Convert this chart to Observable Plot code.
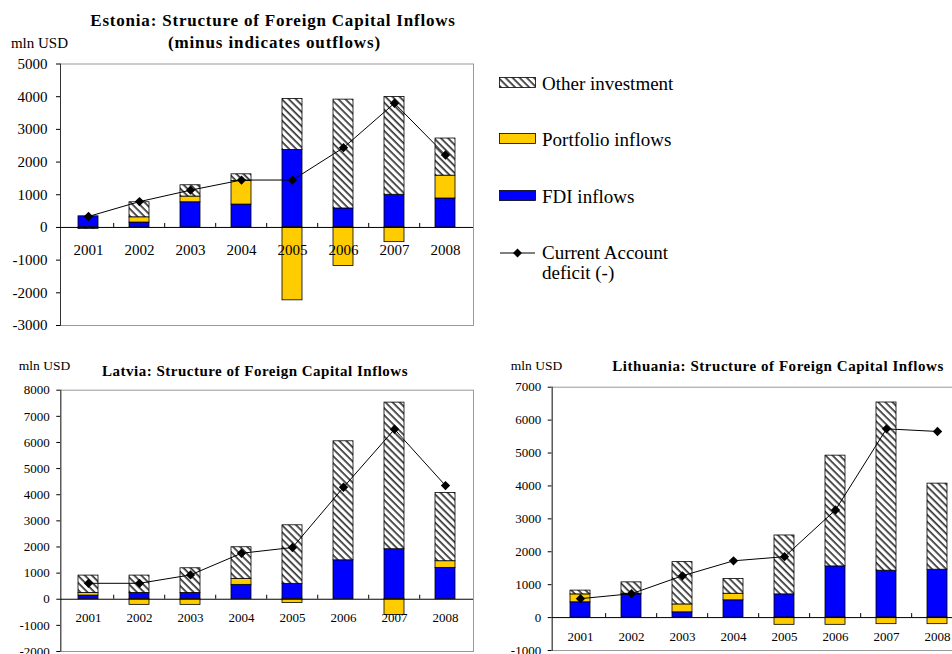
<!DOCTYPE html>
<html><head><meta charset="utf-8">
<script src="https://cdn.jsdelivr.net/npm/d3@7"></script>
<script src="https://cdn.jsdelivr.net/npm/@observablehq/plot@0.6"></script>
<style>
html,body{margin:0;padding:0;background:#fff;overflow:hidden;width:952px;height:654px;}
#root{position:relative;width:952px;height:654px;overflow:hidden;font-family:"Liberation Serif","Times New Roman",serif;color:#000;}
.abs{position:absolute;white-space:nowrap;line-height:1;}
.title{font-weight:bold;}
.chart{position:absolute;}
.sw{position:absolute;}
</style></head><body>
<svg width="0" height="0" style="position:absolute">
  <defs>
    <pattern id="hatch" patternUnits="userSpaceOnUse" width="5" height="5" patternTransform="rotate(45)">
      <rect width="5" height="5" fill="#fff"/>
      <rect width="5" height="1.7" fill="#333"/>
    </pattern>
  </defs>
</svg>
<div id="root"></div>
<script>
// ---- data ----
const years = ["2001","2002","2003","2004","2005","2006","2007","2008"];
const seriesNames = ["FDI inflows","Portfolio inflows","Other investment"];
const seriesColors = ["#0000ff","#ffcc00","url(#hatch)"];

const estoniaFDI       = [340, 150, 770, 700, 2370, 580, 1000, 885];
const estoniaPortfolio = [0, 160, 175, 720, -2230, -1180, -450, 700];
const estoniaOther     = [-50, 460, 345, 205, 1560, 3330, 2990, 1135];
const estoniaCA        = [335, 790, 1140, 1450, 1450, 2440, 3800, 2215];

const latviaFDI       = [140, 240, 240, 550, 590, 1490, 1915, 1200];
const latviaPortfolio = [100, -215, -215, 230, -140, 0, -600, 255];
const latviaOther     = [665, 665, 945, 1210, 2240, 4555, 5610, 2615];
const latviaCA        = [610, 610, 930, 1760, 1980, 4285, 6505, 4350];

const lithuaniaFDI       = [465, 705, 160, 525, 705, 1555, 1425, 1455];
const lithuaniaPortfolio = [240, 20, 240, 200, -220, -220, -200, -200];
const lithuaniaOther     = [115, 345, 1285, 445, 1790, 3365, 5110, 2615];
const lithuaniaCA        = [575, 725, 1270, 1725, 1850, 3270, 5735, 5655];

const yTicksEstonia   = [-3000,-2000,-1000,0,1000,2000,3000,4000,5000];
const yTicksLatvia    = [-2000,-1000,0,1000,2000,3000,4000,5000,6000,7000,8000];
const yTicksLithuania = [-1000,0,1000,2000,3000,4000,5000,6000,7000];

const root = document.getElementById("root");

function addText(txt, left, top, size, cls, ls) {
  const d = document.createElement("div");
  d.className = "abs" + (cls ? " " + cls : "");
  d.style.left = left + "px";
  d.style.top = top + "px";
  d.style.fontSize = size + "px";
  if (ls) d.style.letterSpacing = ls + "px";
  d.textContent = txt;
  root.appendChild(d);
  return d;
}
function addCentered(txt, cx, cy, size, cls, ls) {
  const d = addText(txt, 0, 0, size, cls, ls);
  const w = d.getBoundingClientRect().width;
  const h = d.getBoundingClientRect().height;
  d.style.left = (cx - w / 2) + "px";
  d.style.top = (cy - h / 2) + "px";
  return d;
}

function makeChart(cfg) {
  const rows = [];
  years.forEach((yr, i) => {
    rows.push({year: yr, series: seriesNames[0], value: cfg.fdi[i]});
    rows.push({year: yr, series: seriesNames[1], value: cfg.portfolio[i]});
    rows.push({year: yr, series: seriesNames[2], value: cfg.other[i]});
  });
  const ca = years.map((yr, i) => ({year: yr, value: cfg.ca[i]}));
  const plotH = cfg.height - cfg.marginTop - cfg.marginBottom;
  const plotW = cfg.width - cfg.marginLeft - cfg.marginRight;
  const span = cfg.domain[1] - cfg.domain[0];
  const tickLen = 4 * span / plotH;
  const step = plotW / years.length;
  const chart = Plot.plot({
    width: cfg.width,
    height: cfg.height,
    marginLeft: cfg.marginLeft,
    marginRight: cfg.marginRight,
    marginTop: cfg.marginTop,
    marginBottom: cfg.marginBottom,
    style: {fontFamily: '"Liberation Serif","Times New Roman",serif', fontSize: cfg.fontSize + "px", color: "#000", background: "transparent", overflow: "visible"},
    x: {domain: years, paddingInner: 0.6, paddingOuter: 0.3, axis: null},
    y: {domain: cfg.domain, ticks: cfg.ticks, tickSize: 4, tickPadding: cfg.tickPadding, tickFormat: d => String(d), label: null},
    color: {domain: seriesNames, range: seriesColors},
    marks: [
      Plot.frame({stroke: "#999", strokeWidth: 1}),
      Plot.frame({anchor: "left", stroke: "#333", strokeWidth: 1}),
      Plot.barY(rows, Plot.stackY({x: "year", y: "value", fill: "series", stroke: "#000", strokeWidth: 0.8})),
      Plot.ruleY([0], {stroke: "#000", strokeWidth: 1}),
      Plot.ruleX(years.slice(1), {x: d => d, y1: 0, y2: tickLen, dx: -step / 2, stroke: "#000", strokeWidth: 1}),
      Plot.text(years, {x: d => d, y: 0, dy: cfg.labelDy, text: d => d, fontSize: cfg.fontSize, fill: "#000"}),
      Plot.line(ca, {x: "year", y: "value", stroke: "#000", strokeWidth: 1}),
      Plot.dot(ca, {x: "year", y: "value", symbol: "diamond2", r: 4.2, fill: "#000", stroke: "none"})
    ]
  });
  chart.classList.add("chart");
  chart.style.left = cfg.left + "px";
  chart.style.top = cfg.top + "px";
  root.appendChild(chart);
}

// Estonia
makeChart({fdi: estoniaFDI, portfolio: estoniaPortfolio, other: estoniaOther, ca: estoniaCA,
  domain: [-3000, 5000], ticks: yTicksEstonia, left: 0, top: 0, width: 474, height: 327,
  marginLeft: 60, marginRight: 1, marginTop: 63.5, marginBottom: 2, fontSize: 15, tickPadding: 9, labelDy: 23});
// Latvia
makeChart({fdi: latviaFDI, portfolio: latviaPortfolio, other: latviaOther, ca: latviaCA,
  domain: [-2000, 8000], ticks: yTicksLatvia, left: 0, top: 355, width: 474, height: 298,
  marginLeft: 60.3, marginRight: 1, marginTop: 34.7, marginBottom: 2, fontSize: 13, tickPadding: 7, labelDy: 19});
// Lithuania
makeChart({fdi: lithuaniaFDI, portfolio: lithuaniaPortfolio, other: lithuaniaOther, ca: lithuaniaCA,
  domain: [-1000, 7000], ticks: yTicksLithuania, left: 500, top: 355, width: 466, height: 297,
  marginLeft: 51.7, marginRight: 1, marginTop: 31.7, marginBottom: 2, fontSize: 13, tickPadding: 7, labelDy: 19});

// Titles
addCentered("Estonia: Structure of Foreign Capital Inflows", 273, 20.5, 17, "title", 0.8);
addCentered("(minus indicates outflows)", 274.5, 42.5, 17, "title", 0.9);
addCentered("mln USD", 39.5, 43, 15);
addCentered("Latvia: Structure of Foreign Capital Inflows", 255, 371, 15, "title", 0.5);
addCentered("mln USD", 44.5, 366, 13.5);
addCentered("Lithuania: Structure of Foreign Capital Inflows", 778, 366.5, 15, "title", 0.55);
addCentered("mln USD", 536.5, 366, 13.5);

// Legend
function addSwatch(fill, top) {
  const ns = "http://www.w3.org/2000/svg";
  const s = document.createElementNS(ns, "svg");
  s.setAttribute("width", 38); s.setAttribute("height", 12);
  s.setAttribute("class", "sw");
  s.style.left = "499px"; s.style.top = top + "px";
  const r = document.createElementNS(ns, "rect");
  r.setAttribute("x", 0.5); r.setAttribute("y", 0.5); r.setAttribute("width", 36); r.setAttribute("height", 10);
  r.setAttribute("fill", fill); r.setAttribute("stroke", "#000"); r.setAttribute("stroke-width", 0.8);
  s.appendChild(r);
  root.appendChild(s);
}
addSwatch(seriesColors[2], 77);
addSwatch(seriesColors[1], 133);
addSwatch(seriesColors[0], 190);
(function(){
  const ns = "http://www.w3.org/2000/svg";
  const s = document.createElementNS(ns, "svg");
  s.setAttribute("width", 40); s.setAttribute("height", 12);
  s.setAttribute("class", "sw");
  s.style.left = "499px"; s.style.top = "246.7px";
  const l = document.createElementNS(ns, "line");
  l.setAttribute("x1", 1); l.setAttribute("x2", 36); l.setAttribute("y1", 6); l.setAttribute("y2", 6);
  l.setAttribute("stroke", "#000"); l.setAttribute("stroke-width", 1);
  s.appendChild(l);
  const p = document.createElementNS(ns, "path");
  p.setAttribute("d", "M18.5,1.5 L23,6 L18.5,10.5 L14,6 Z");
  p.setAttribute("fill", "#000");
  s.appendChild(p);
  root.appendChild(s);
})();
function addLegendText(txt, cy) {
  const d = addText(txt, 542, 0, 19);
  const h = d.getBoundingClientRect().height;
  d.style.top = (cy - h / 2) + "px";
}
addLegendText("Other investment", 83);
addLegendText("Portfolio inflows", 139);
addLegendText("FDI inflows", 196);
addLegendText("Current Account", 252);
addLegendText("deficit (-)", 272);
</script>
</body></html>
